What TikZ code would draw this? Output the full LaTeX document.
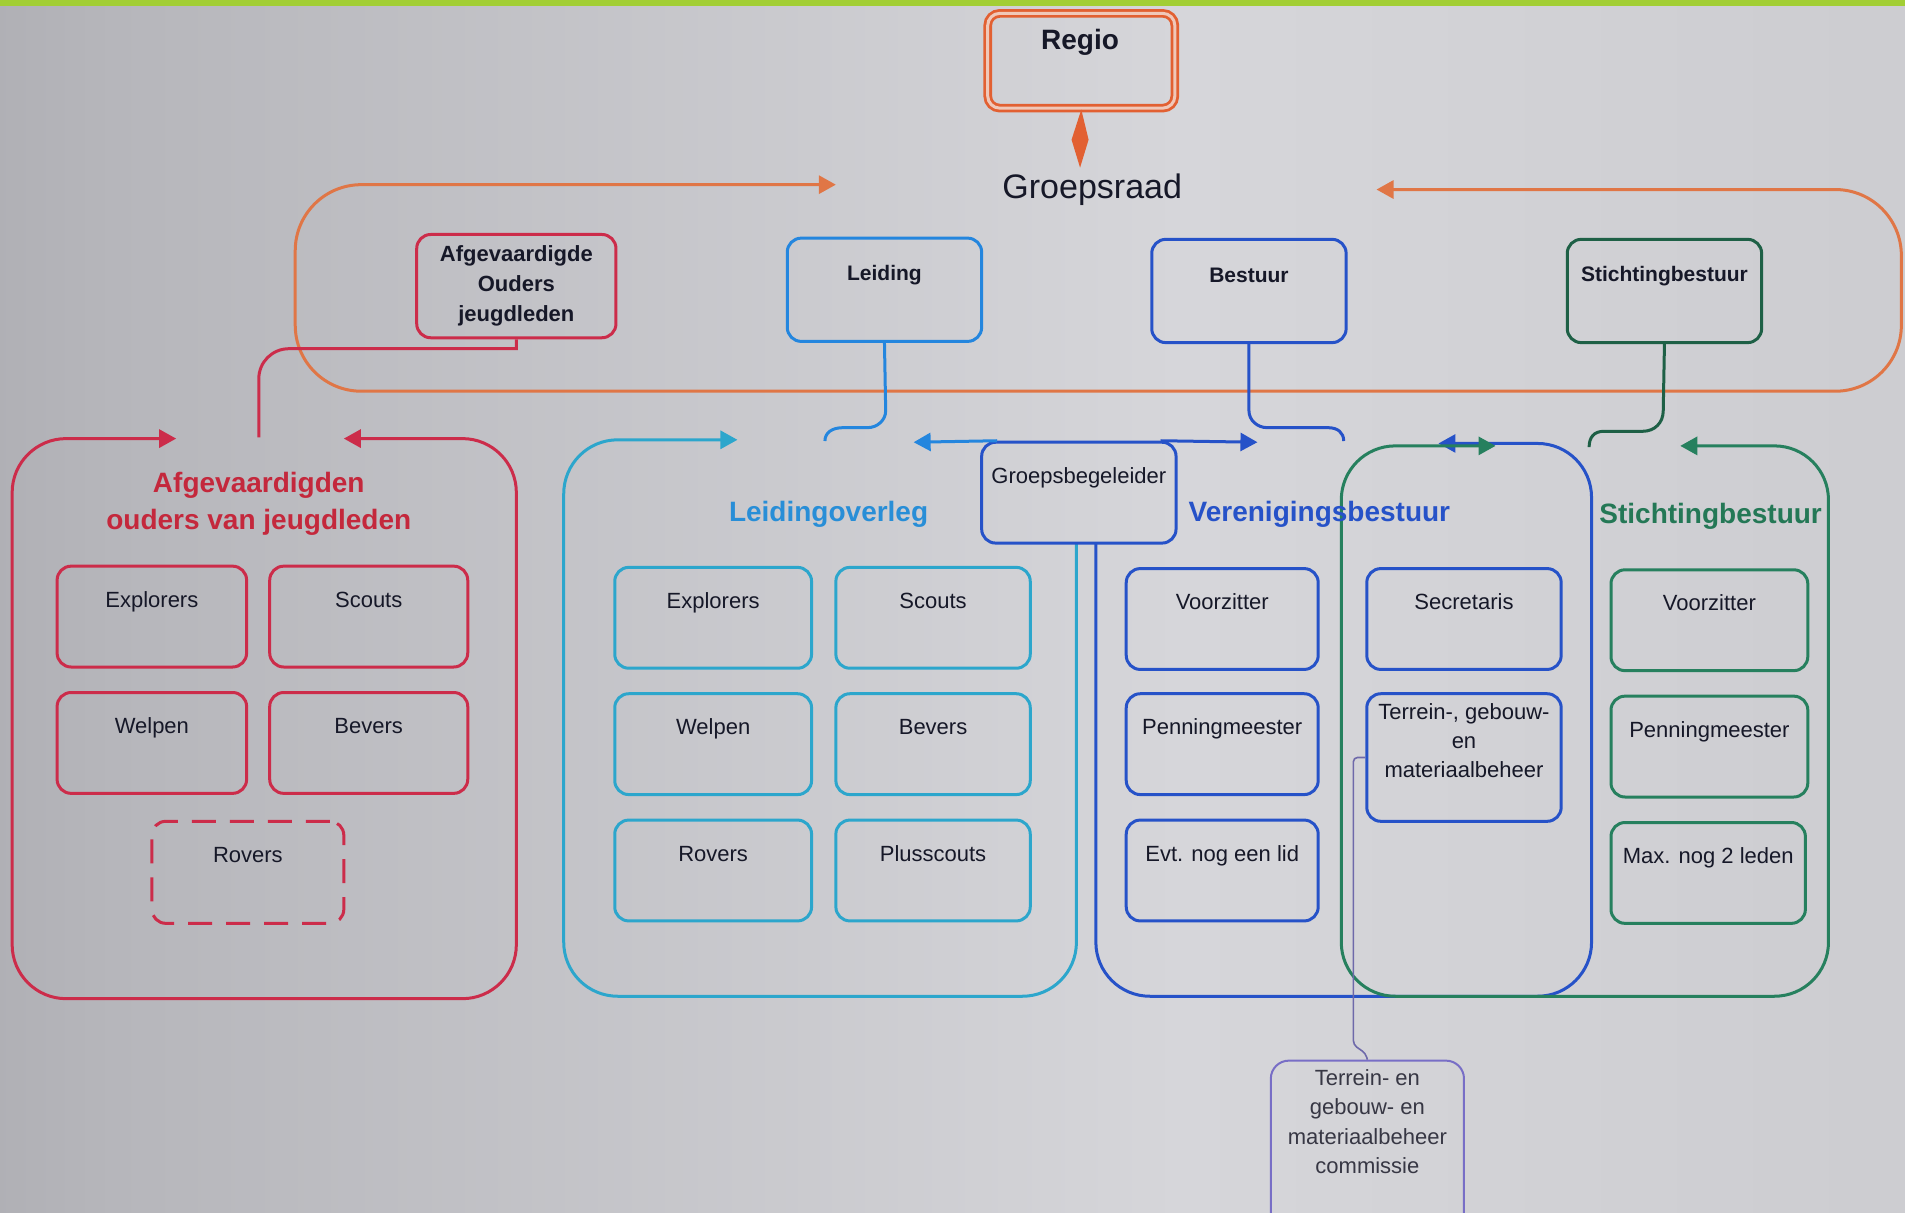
\documentclass[tikz,border=0pt]{standalone}
\usepackage{fontspec}
\setmainfont{Liberation Sans}
\usetikzlibrary{arrows.meta,calc}
\definecolor{bgA}{RGB}{128,128,134}
\definecolor{bgB}{RGB}{182,182,187}
\definecolor{bgC}{RGB}{214,214,218}
\definecolor{bgD}{RGB}{200,200,204}
\definecolor{bgE}{RGB}{152,152,157}
\definecolor{cbar}{RGB}{162,206,52}
\definecolor{cred}{RGB}{204,44,74}
\definecolor{credt}{RGB}{196,40,60}
\definecolor{corange}{RGB}{226,96,50}
\definecolor{corange2}{RGB}{224,118,70}
\definecolor{regfill}{RGB}{240,200,185}
\definecolor{cteal}{RGB}{44,166,204}
\definecolor{clblue}{RGB}{36,134,222}
\definecolor{ctitleblue}{RGB}{40,142,215}
\definecolor{cdblue}{RGB}{38,82,200}
\definecolor{cgreen}{RGB}{30,96,70}
\definecolor{cgreen2}{RGB}{38,128,94}
\definecolor{cgreent}{RGB}{36,120,86}
\definecolor{cpurple}{RGB}{120,110,198}
\definecolor{cpline}{RGB}{110,105,170}
\definecolor{ctext}{RGB}{22,24,40}
\definecolor{ctext2}{RGB}{55,55,68}
\pgfdeclarehorizontalshading{bgshade}{100bp}{color(0bp)=(bgA); color(28bp)=(bgB); color(56bp)=(bgC); color(84bp)=(bgD); color(100bp)=(bgE)}
\tikzset{
  >={Triangle[length=8.5pt,width=9pt]},
  box/.style={draw,line width=1.5pt,rounded corners=7pt,inner sep=0pt},
  wh/.style 2 args={minimum width=#1*0.6075pt,minimum height=#2*0.6075pt},
  lbl/.style={font=\fontsize{11}{14.6}\selectfont,text=ctext,inner sep=0pt,anchor=base,align=center},
  topl/.style={lbl,font=\fontsize{10.5}{14.9}\selectfont\bfseries},
  ttl/.style={font=\fontsize{14}{18.8}\selectfont\bfseries,inner sep=0pt,anchor=base,align=center},
  cont/.style={line width=1.5pt,rounded corners=27pt},
  conn/.style={line width=1.5pt},
}
\begin{document}
\begin{tikzpicture}[x=0.6075pt,y=-0.6075pt]
\useasboundingbox (0,0) rectangle (1568,998);
\clip (0,0) rectangle (1568,998);
\shade[shading=bgshade] (0,0) rectangle (1568,998);
\fill[cbar] (0,0) rectangle (1568,5);

% ---- Groepsraad frame
\coordinate (oL) at (688,152);
\coordinate (oR) at (1133,156);
\draw[line width=1.5pt, corange2, rounded corners=33pt, <->] (oL) -- (243,152) -- (243,322) -- (1565,322) -- (1565,156) -- (oR);

% ---- Regio
\node[draw=corange, line width=1.4pt, double=regfill, double distance=1.5pt, rounded corners=6pt, inner sep=0pt, wh={154}{78}] (regio) at (890,50) {};
\node[ttl, text=ctext] (regio-t) at (889,41) {Regio};
\node[inner sep=0pt, anchor=base, font=\fontsize{17}{20}\selectfont, text=ctext] (gr) at (899,163) {Groepsraad};
\coordinate (grtop) at (889,138);
\fill[corange] (regio.south) -- (896,115) -- (grtop) -- (882,115) -- cycle;

% ---- top boxes
\node[box, draw=cred, wh={164}{85}] (afg) at (425,235.5) {};
\node[topl, font=\fontsize{11}{14.9}\selectfont\bfseries, anchor=north] (afg-t) at ($(afg.north)+(0,10)$) {Afgevaardigde\\Ouders\\jeugdleden};
\node[box, draw=clblue, wh={160}{85}] (lei) at (728,238.5) {};
\node[topl] (lei-t) at ($(lei.north)+(0,36)$) {Leiding};
\node[box, draw=cdblue, wh={160}{85}] (bes) at (1028,239.5) {};
\node[topl] (bes-t) at ($(bes.north)+(0,37)$) {Bestuur};
\node[box, draw=cgreen, wh={160}{85}] (sti) at (1370,239.5) {};
\node[topl] (sti-t) at ($(sti.north)+(0,36)$) {Stichtingbestuur};

% ---- connectors from top boxes
\draw[conn, cred] (afg.south) -- (425,287) -- (238,287) .. controls (224,287) and (213,298) .. (213,312) -- (213,360);
\draw[conn, clblue] (lei.south) -- (729,338) .. controls (729,346) and (722,352) .. (714,352) -- (694,352) .. controls (685,352) and (679,356) .. (679,363);
\draw[conn, cdblue] (bes.south) -- (1028,338) .. controls (1028,346) and (1035,352) .. (1043,352) -- (1093,352) .. controls (1101,352) and (1106,356) .. (1106,363);
\draw[conn, cgreen] (sti.south) -- (1369,338) .. controls (1369,348) and (1362,355) .. (1352,355) -- (1320,355) .. controls (1312,355) and (1308,360) .. (1308,368);

% ---- containers
\draw[cont, cred, <->] (145,361) -- (10,361) -- (10,822) -- (425,822) -- (425,361) -- (283,361);
\draw[cont, cteal, <-] (607,362) -- (464,362) -- (464,820) -- (886,820) -- (886,447);
\draw[cont, cdblue, ->] (902,447) -- (902,820) -- (1310,820) -- (1310,365) -- (1184,365);
\draw[cont, cgreen2, <->] (1231,367) -- (1104,367) -- (1104,820) -- (1505,820) -- (1505,367) -- (1383,367);

% ---- titles
\node[ttl, text=credt, anchor=north] (ttl-afg) at (213,388) {Afgevaardigden\\ouders van jeugdleden};
\node[ttl, text=ctitleblue] (ttl-lo) at (682,429) {Leidingoverleg};
\node[ttl, text=cdblue] (ttl-vb) at (1086,429) {Verenigingsbestuur};
\node[ttl, text=cgreent] (ttl-sb) at (1408,431) {Stichtingbestuur};

% ---- Groepsbegeleider
\node[box, draw=cdblue, wh={160}{83}] (gb) at (888,405.5) {};
\node[lbl] (gb-t) at ($(gb.north)+(0,35)$) {Groepsbegeleider};
\draw[conn, clblue, <-] (752,364) -- ($(gb.north west)+(14,0)$);
\draw[conn, cdblue, ->] ($(gb.north east)+(-14,0)$) -- (1035,364);

% ---- inner boxes
\foreach \nm/\cx/\cy/\w/\h/\col/\txt in {
  r1/125/507.5/156/83/cred/Explorers, r2/303.5/507.5/163/83/cred/Scouts,
  r3/125/611.5/156/83/cred/Welpen, r4/303.5/611.5/163/83/cred/Bevers,
  l1/587/508.5/162/83/cteal/Explorers, l2/768/508.5/160/83/cteal/Scouts,
  l3/587/612.5/162/83/cteal/Welpen, l4/768/612.5/160/83/cteal/Bevers,
  l5/587/716.5/162/83/cteal/Rovers, l6/768/716.5/160/83/cteal/Plusscouts,
  v1/1006/509.5/158/83/cdblue/Voorzitter, v2/1006/612.5/158/83/cdblue/Penningmeester,
  v3/1006/716.5/158/83/cdblue/{Evt. nog een lid}, v4/1205/509.5/160/83/cdblue/Secretaris,
  s1/1407/510.5/162/83/cgreen2/Voorzitter, s2/1407/614.5/162/83/cgreen2/Penningmeester,
  s3/1406/718.5/160/83/cgreen2/{Max. nog 2 leden}}
{
  \node[box, draw=\col, wh={\w}{\h}] (\nm) at (\cx,\cy) {};
  \node[lbl] (\nm-t) at ($(\nm.north)+(0,35)$) {\txt};
}
\node[box, draw=cred, dash pattern=on 12pt off 7pt, wh={158}{84}] (r5) at (204,718) {};
\node[lbl] (r5-t) at ($(r5.north)+(0,35)$) {Rovers};

\node[box, draw=cdblue, wh={160}{105}] (ter) at (1205,623.5) {};
\node[lbl, anchor=north] (ter-t) at ($(ter.north)+(0,9)$) {Terrein-, gebouw-\\en\\materiaalbeheer};

% ---- commissie
\node[box, draw=cpurple, line width=1pt, rounded corners=9pt, wh={159}{140}] (comm) at (1125.5,943) {};
\node[lbl, text=ctext2, anchor=north] (comm-t) at ($(comm.north)+(0,8)$) {Terrein- en\\gebouw- en\\materiaalbeheer\\commissie};
\draw[line width=0.8pt, cpline, rounded corners=2pt] (ter.west) -- (1114,623.5) -- (1114,860) -- (1124,867) -- (comm.north);
\end{tikzpicture}
\end{document}
